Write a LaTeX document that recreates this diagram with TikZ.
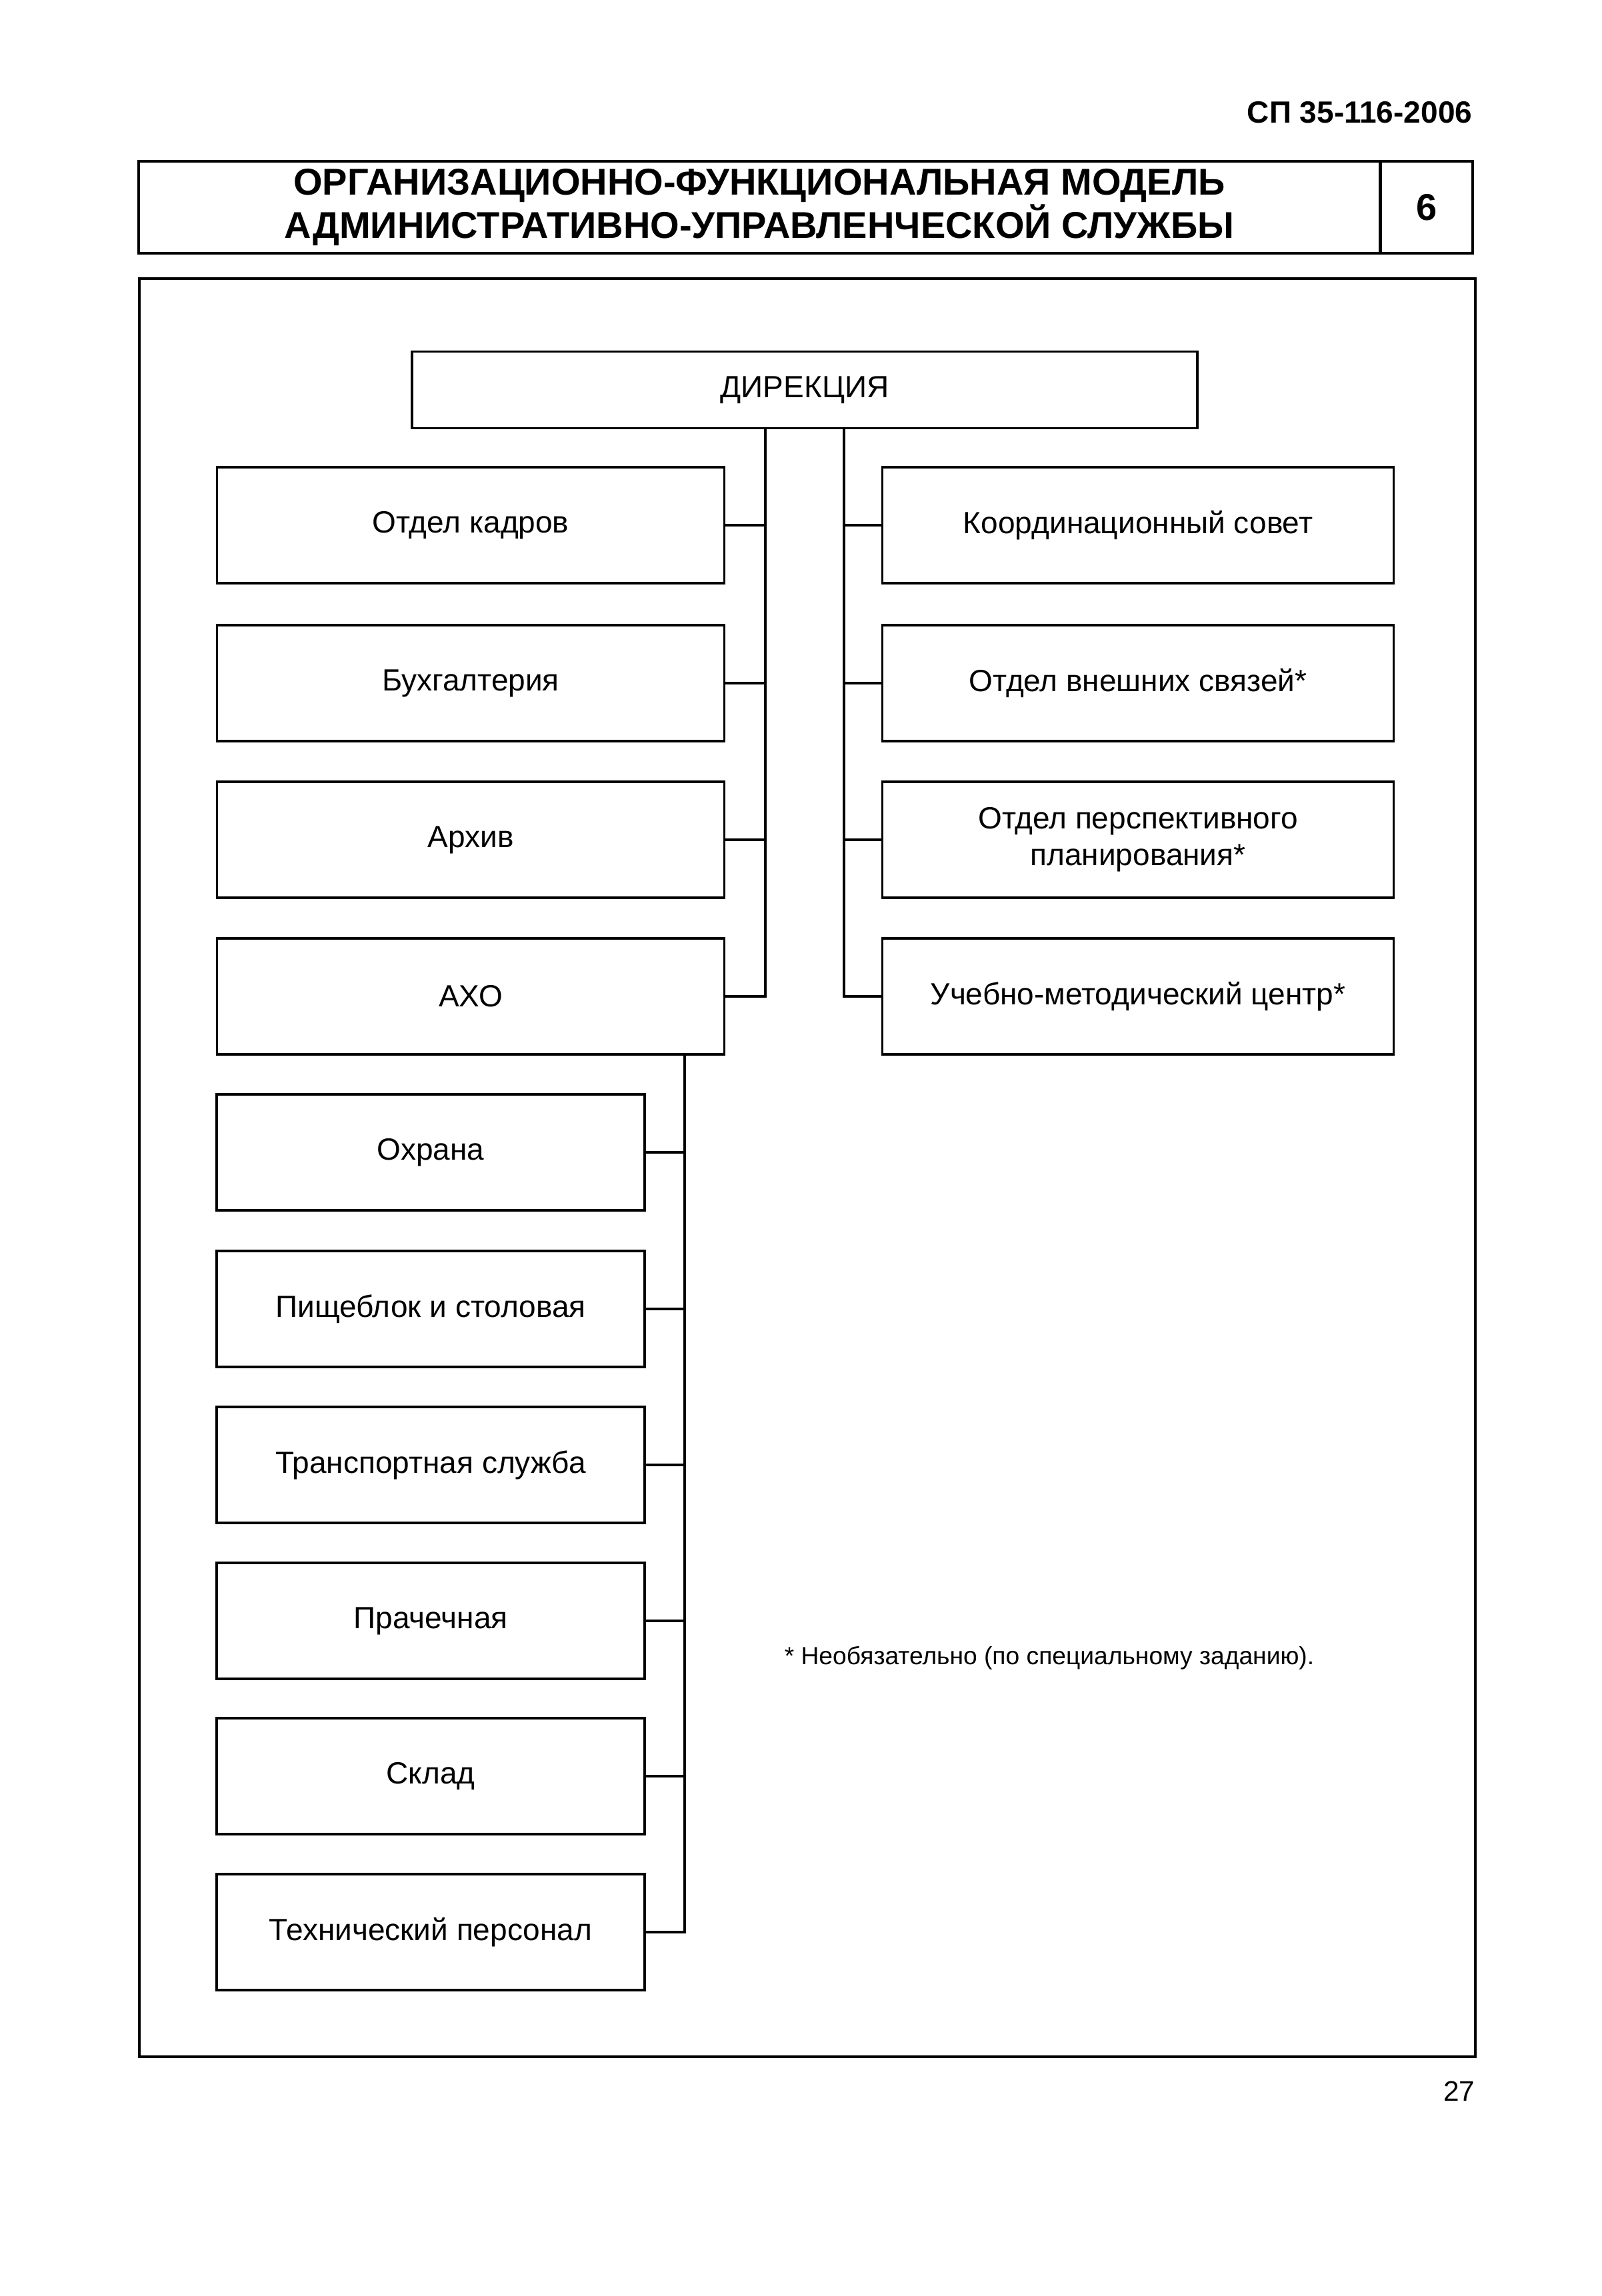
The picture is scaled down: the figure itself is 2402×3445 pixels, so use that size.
\documentclass[tikz,border=0pt]{standalone}
\usepackage{fontspec}
\setmainfont{Liberation Sans}
\newcommand{\boxfnt}{\fontsize{11.5}{13.8}\selectfont}
\newcommand{\titlefnt}{\fontsize{14}{15.2}\selectfont\bfseries}
\begin{document}
\begin{tikzpicture}[x=0.25pt,y=-0.25pt,
  frm/.style={draw,line width=1pt},
  unit/.style={draw,line width=0.9pt,inner sep=0pt,align=center,font=\boxfnt},
  lbox/.style={unit,minimum width=190.2pt,minimum height=43.5pt},
  rbox/.style={unit,minimum width=191.7pt,minimum height=43.5pt},
  sbox/.style={unit,minimum width=160.5pt,minimum height=43.5pt},
  conn/.style={line width=0.9pt}]
\useasboundingbox (0,0) rectangle (2402,3445);
% page header
\node[anchor=east,font=\fontsize{11.5}{13}\selectfont\bfseries,inner sep=0pt] (code) at (2209,169) {СП 35-116-2006};
\node[frm,minimum width=465.5pt,minimum height=34.7pt,inner sep=0pt,align=center,font=\titlefnt] (title) at (1139,311)
  {ОРГАНИЗАЦИОННО-ФУНКЦИОНАЛЬНАЯ МОДЕЛЬ\\АДМИНИСТРАТИВНО-УПРАВЛЕНЧЕСКОЙ СЛУЖБЫ};
\node[frm,minimum width=34.7pt,minimum height=34.7pt,inner sep=0pt,font=\fontsize{14}{16}\selectfont\bfseries] (num) at (2140,311) {6};
% main frame
\draw[frm] (209,418) rectangle (2213,3086);
% top node
\node[unit,minimum width=294.4pt,minimum height=28.7pt] (dir) at (1207,585) {ДИРЕКЦИЯ};
% left column
\node[lbox] (kadr) at (706,788) {Отдел кадров};
\node[lbox] (buh) at (706,1025) {Бухгалтерия};
\node[lbox] (arh) at (706,1260) {Архив};
\node[lbox] (axo) at (706,1495) {АХО};
% right column
\node[rbox] (ksov) at (1707,788) {Координационный совет};
\node[rbox] (ovs) at (1707,1025) {Отдел внешних связей*};
\node[rbox] (opp) at (1707,1260) {Отдел перспективного\\планирования*};
\node[rbox] (umc) at (1707,1495) {Учебно-методический центр*};
% sub column
\node[sbox] (ohr) at (646,1729) {Охрана};
\node[sbox] (pish) at (646,1964) {Пищеблок и столовая};
\node[sbox] (tran) at (646,2198) {Транспортная служба};
\node[sbox] (prach) at (646,2432) {Прачечная};
\node[sbox] (skl) at (646,2665) {Склад};
\node[sbox] (tech) at (646,2899) {Технический персонал};
% trunk coordinates
\coordinate (vl) at (1148,0);
\coordinate (vr) at (1266,0);
\coordinate (vs) at (1027,0);
% connectors
\draw[conn] (dir.south -| vl) |- (axo.east);
\foreach \n in {kadr,buh,arh} \draw[conn] (\n.east) -- (\n.east -| vl);
\draw[conn] (dir.south -| vr) |- (umc.west);
\foreach \n in {ksov,ovs,opp} \draw[conn] (\n.west) -- (\n.west -| vr);
\draw[conn] (axo.south -| vs) |- (tech.east);
\foreach \n in {ohr,pish,tran,prach,skl} \draw[conn] (\n.east) -- (\n.east -| vs);
% footnote and page number
\node[anchor=west,inner sep=0pt,font=\fontsize{9.3}{11}\selectfont] (note) at (1176,2488) {* Необязательно (по специальному заданию).};
\node[anchor=east,inner sep=0pt,font=\fontsize{10.6}{12}\selectfont] (page) at (2213,3138) {27};
\end{tikzpicture}
\end{document}
